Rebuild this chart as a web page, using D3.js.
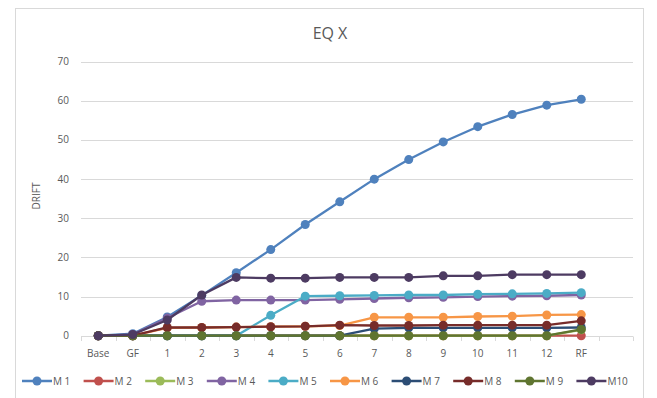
<!DOCTYPE html>
<html>
<head>
<meta charset="utf-8">
<script src="https://cdn.jsdelivr.net/npm/d3@7"></script>
<style>
  html, body { margin: 0; padding: 0; background: #fff; }
  svg { display: block; }
  text { font-family: "Open Sans", "Liberation Sans", sans-serif; fill: #595959; }
</style>
</head>
<body>
<svg id="chart" width="657" height="398"></svg>
<script>
// Storey labels along the x axis
const categories = ["Base", "GF", "1", "2", "3", "4", "5", "6", "7", "8", "9", "10", "11", "12", "RF"];

// Drift per storey for each model
const m1  = [0, 0.5, 4.8, 10.3, 16.1, 22.0, 28.4, 34.2, 40.0, 45.0, 49.5, 53.4, 56.5, 58.9, 60.4];
const m2  = [0, 0, 0, 0, 0, 0, 0, 0, 0, 0, 0, 0, 0, 0, 0];
const m3  = [0, 0, 0, 0, 0, 0, 0, 0, 0, 0, 0, 0, 0, 0, 1.5];
const m4  = [0, 0.3, 4.5, 8.8, 9.1, 9.1, 9.1, 9.3, 9.5, 9.7, 9.8, 10.0, 10.1, 10.2, 10.4];
const m5  = [0, 0, 0, 0, 0, 5.2, 10.1, 10.2, 10.3, 10.4, 10.4, 10.6, 10.7, 10.8, 11.0];
const m6  = [0, 0, 2.0, 2.1, 2.2, 2.3, 2.4, 2.6, 4.7, 4.7, 4.7, 4.9, 5.0, 5.3, 5.4];
const m7  = [0, 0, 0, 0, 0, 0, 0, 0, 1.8, 2.0, 2.0, 2.0, 2.0, 2.0, 2.1];
const m8  = [0, 0, 2.1, 2.1, 2.2, 2.3, 2.4, 2.7, 2.6, 2.6, 2.7, 2.7, 2.7, 2.7, 3.8];
const m9  = [0, 0, 0, 0, 0, 0, 0, 0, 0, 0, 0, 0, 0, 0, 1.6];
const m10 = [0, 0.3, 4.0, 10.4, 14.9, 14.7, 14.7, 14.9, 14.9, 14.9, 15.3, 15.3, 15.6, 15.6, 15.6];

const seriesNames = ["M 1", "M 2", "M 3", "M 4", "M 5", "M 6", "M 7", "M 8", "M 9", "M10"];
const seriesValues = [m1, m2, m3, m4, m5, m6, m7, m8, m9, m10];
const seriesColors = ["#4F81BD", "#C0504D", "#9BBB59", "#8064A2", "#4BACC6",
                      "#F79646", "#2C4D75", "#772C2A", "#5F7530", "#4D3B62"];

const yTicks = [0, 10, 20, 30, 40, 50, 60, 70];
const titleText = "EQ X";
const yTitle = "DRIFT";

const svg = d3.select("#chart");

// chart frame
svg.append("rect")
  .attr("x", 15.5).attr("y", 8.5)
  .attr("width", 628).attr("height", 400)
  .attr("fill", "#fff").attr("stroke", "#d9d9d9");

// plot area: one spare slot after the last storey, as on the axis
const plotLeft = 81, plotRight = 633, plotTop = 61.7, plotBottom = 335.7;
const slot = (plotRight - plotLeft) / (categories.length + 1);
const x = d3.scaleBand().domain(categories).range([plotLeft, plotLeft + slot * categories.length]);
const cx = c => x(c) + x.bandwidth() / 2;
const y = d3.scaleLinear().domain([0, 70]).range([plotBottom, plotTop]);

// horizontal gridlines
svg.append("g").selectAll("line").data(yTicks).join("line")
  .attr("x1", plotLeft).attr("x2", plotRight)
  .attr("y1", d => Math.round(y(d)) + 0.5).attr("y2", d => Math.round(y(d)) + 0.5)
  .attr("stroke", "#d9d9d9").attr("stroke-width", 1);

// y axis labels
svg.append("g").selectAll("text").data(yTicks).join("text")
  .attr("x", 69).attr("y", d => y(d) + 3.5)
  .attr("text-anchor", "end").attr("font-size", 10)
  .text(d => d);

// x axis tick marks at slot boundaries
const tickPos = d3.range(categories.length + 2).map(i => plotLeft + i * slot);
svg.append("g").selectAll("line").data(tickPos).join("line")
  .attr("x1", d => Math.round(d) + 0.5).attr("x2", d => Math.round(d) + 0.5)
  .attr("y1", Math.round(plotBottom) + 0.5).attr("y2", Math.round(plotBottom) + 5)
  .attr("stroke", "#d9d9d9");

// x axis labels
svg.append("g").selectAll("text").data(categories).join("text")
  .attr("x", d => cx(d)).attr("y", 357)
  .attr("text-anchor", "middle").attr("font-size", 10)
  .text(d => d);

// title
svg.append("text")
  .attr("x", 330).attr("y", 39)
  .attr("text-anchor", "middle").attr("font-size", 16)
  .text(titleText);

// y axis title
svg.append("text")
  .attr("transform", "translate(40,196) rotate(-90)")
  .attr("text-anchor", "middle").attr("font-size", 10)
  .text(yTitle);

// series lines and markers
const line = d3.line().x((d, i) => cx(categories[i])).y(d => y(d));
seriesValues.forEach((vals, si) => {
  const g = svg.append("g");
  g.append("path")
    .datum(vals)
    .attr("d", line)
    .attr("fill", "none")
    .attr("stroke", seriesColors[si])
    .attr("stroke-width", 2.3)
    .attr("stroke-linejoin", "round");
  g.selectAll("circle").data(vals).join("circle")
    .attr("cx", (d, i) => cx(categories[i]))
    .attr("cy", d => y(d))
    .attr("r", 4.5)
    .attr("fill", seriesColors[si]);
});

// legend
const legendStart = 22, legendStep = 61.6, legendY = 381;
const lg = svg.append("g").selectAll("g").data(seriesNames).join("g")
  .attr("transform", (d, i) => `translate(${legendStart + i * legendStep},${legendY})`);
lg.append("line")
  .attr("x1", 0).attr("x2", 30).attr("y1", 0).attr("y2", 0)
  .attr("stroke", (d, i) => seriesColors[i]).attr("stroke-width", 2.5);
lg.append("circle")
  .attr("cx", 15).attr("cy", 0).attr("r", 4.5)
  .attr("fill", (d, i) => seriesColors[i]);
lg.append("text")
  .attr("x", 31).attr("y", 3.5).attr("font-size", 10)
  .text(d => d);
</script>
</body>
</html>
